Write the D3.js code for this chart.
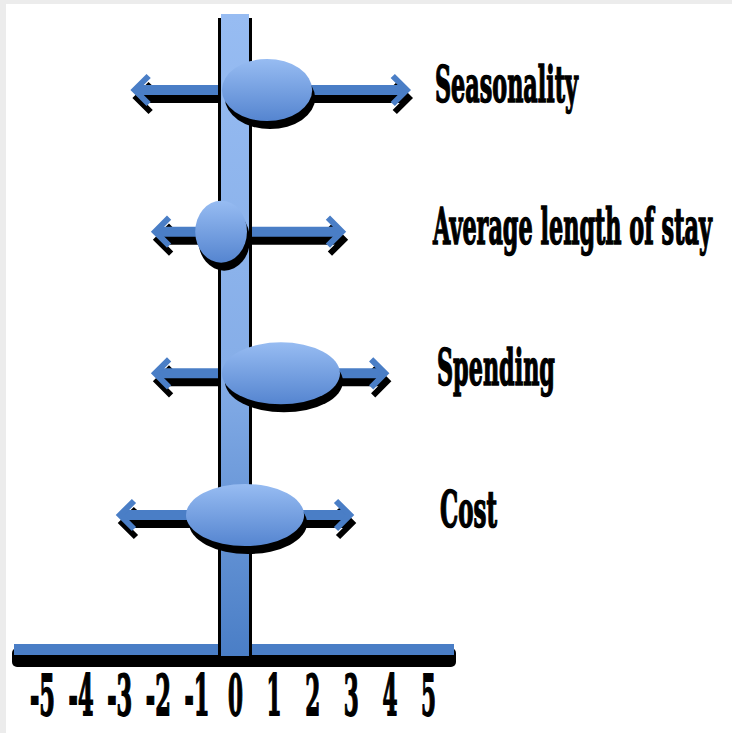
<!DOCTYPE html>
<html>
<head>
<meta charset="utf-8">
<script src="https://cdn.jsdelivr.net/npm/d3@7"></script>
<style>
  body { margin: 0; background: #ececec; }
  svg { display: block; }
</style>
</head>
<body>
<svg id="chart" width="732" height="733"></svg>
<script>
'use strict';

// factors, top to bottom
const factors = ['Seasonality', 'Average length of stay', 'Spending', 'Cost'];
// point estimate (centre of the ellipse)
const centers = [0.83, -0.36, 1.19, 0.26];
// arrow ends (lower / upper)
const lows = [-2.6, -2.07, -2.07, -2.98];
const highs = [4.45, 2.77, 3.89, 2.98];
// half width of the ellipse, in axis units
const spreads = [1.17, 0.67, 1.53, 1.53];
// axis ticks
const ticks = [-5, -4, -3, -2, -1, 0, 1, 2, 3, 4, 5];

const svg = d3.select('#chart');
const W = 732, H = 733;
const blue = '#4a7ec6';
const font = '"DejaVu Serif", "Liberation Serif", serif';

const x = d3.scaleLinear().domain([-5, 5]).range([42, 428]);
const y = d3.scalePoint().domain(factors).range([90, 515]);
const axisY = 650; // middle of the horizontal bar

// background: light grey frame, white page
svg.append('rect').attr('width', W).attr('height', H).attr('fill', '#ececec');
svg.append('rect').attr('x', 6).attr('y', 4).attr('width', W - 6).attr('height', H - 4).attr('fill', '#fff');

const defs = svg.append('defs');
const grad = (id, stops) => {
  const g = defs.append('linearGradient').attr('id', id)
    .attr('x1', 0).attr('y1', 0).attr('x2', 0).attr('y2', 1);
  stops.forEach(([o, c]) => g.append('stop').attr('offset', o).attr('stop-color', c));
};
grad('vbar', [[0, '#97bcf2'], [0.55, '#86aee8'], [1, '#4a7ec6']]);
grad('ell', [[0, '#97bcf2'], [1, '#5585d0']]);

// horizontal axis bar (shadow first)
svg.append('rect')
  .attr('x', x(-5) - 30).attr('y', axisY - 2)
  .attr('width', x(5) - x(-5) + 58).attr('height', 19)
  .attr('rx', 5).attr('fill', '#000');
svg.append('rect')
  .attr('x', x(-5) - 28).attr('y', axisY - 6)
  .attr('width', x(5) - x(-5) + 54).attr('height', 11)
  .attr('fill', blue);

// arrows, one per factor
const arrow = (g, i) => {
  const yy = y(factors[i]), a = x(lows[i]), b = x(highs[i]);
  g.append('line').attr('x1', a + 2).attr('x2', b - 2).attr('y1', yy).attr('y2', yy)
    .attr('stroke-width', 10);
  g.append('path').attr('d', `M${a + 14},${yy - 14}L${a},${yy}L${a + 14},${yy + 14}`)
    .attr('stroke-width', 6).attr('fill', 'none').attr('stroke-linejoin', 'miter');
  g.append('path').attr('d', `M${b - 14},${yy - 14}L${b},${yy}L${b - 14},${yy + 14}`)
    .attr('stroke-width', 6).attr('fill', 'none').attr('stroke-linejoin', 'miter');
};
const arrowShadow = svg.append('g').attr('stroke', '#000').attr('transform', 'translate(2,8)');
const arrows = svg.append('g').attr('stroke', blue);
factors.forEach((f, i) => { arrow(arrowShadow, i); arrow(arrows, i); });

// vertical bar at zero
svg.append('rect')
  .attr('x', x(0) - 17).attr('y', 18)
  .attr('width', 34).attr('height', axisY + 6 - 18)
  .attr('fill', '#000');
svg.append('rect')
  .attr('x', x(0) - 14).attr('y', 14)
  .attr('width', 28).attr('height', axisY + 6 - 14)
  .attr('fill', 'url(#vbar)');

// ellipses for the estimates
const ry = 31;
svg.append('g').selectAll('ellipse')
  .data(factors)
  .join('ellipse')
  .attr('cx', (d, i) => x(centers[i]) + 3)
  .attr('cy', (d) => y(d) + 8)
  .attr('rx', (d, i) => x(spreads[i]) - x(0))
  .attr('ry', ry)
  .attr('fill', '#000');
svg.append('g').selectAll('ellipse')
  .data(factors)
  .join('ellipse')
  .attr('cx', (d, i) => x(centers[i]))
  .attr('cy', (d) => y(d))
  .attr('rx', (d, i) => x(spreads[i]) - x(0))
  .attr('ry', ry)
  .attr('fill', 'url(#ell)');

// squash a text horizontally to a target width (keeps its real bbox)
const squash = (sel, tx, ty, width) => sel.each(function (d, i) {
  const w = this.getComputedTextLength();
  d3.select(this).attr('transform',
    `translate(${tx(d, i)},${ty(d, i)}) scale(${width(d, i) / w},1)`);
});

// factor labels, squashed heavy serif
const labelW = [143, 279, 118, 57];
const labelX = [435, 433, 437, 440];
svg.append('g').selectAll('text')
  .data(factors)
  .join('text')
  .attr('font-family', font)
  .attr('font-weight', 'bold')
  .attr('font-size', 50)
  .attr('fill', '#000')
  .attr('stroke', '#000')
  .attr('stroke-width', 1.6)
  .text((d) => d)
  .call(squash, (d, i) => labelX[i], (d) => y(d) + 12, (d, i) => labelW[i]);

// tick labels through a d3 axis, no line or ticks
const ax = svg.append('g')
  .attr('transform', `translate(0,${axisY})`)
  .call(d3.axisBottom(x).tickValues(ticks).tickSize(0).tickFormat(d3.format('d')));
ax.select('.domain').remove();
ax.selectAll('text')
  .attr('y', 0)
  .attr('dy', 0)
  .attr('font-family', font)
  .attr('font-weight', 'bold')
  .attr('font-size', 56)
  .attr('fill', '#000')
  .attr('stroke', '#000')
  .attr('stroke-width', 1.8)
  .text((d) => d < 0 ? `-${-d}` : `${d}`)
  .call(squash, () => 0, () => 65, (d) => d < 0 ? 25 : 15);
</script>
</body>
</html>
